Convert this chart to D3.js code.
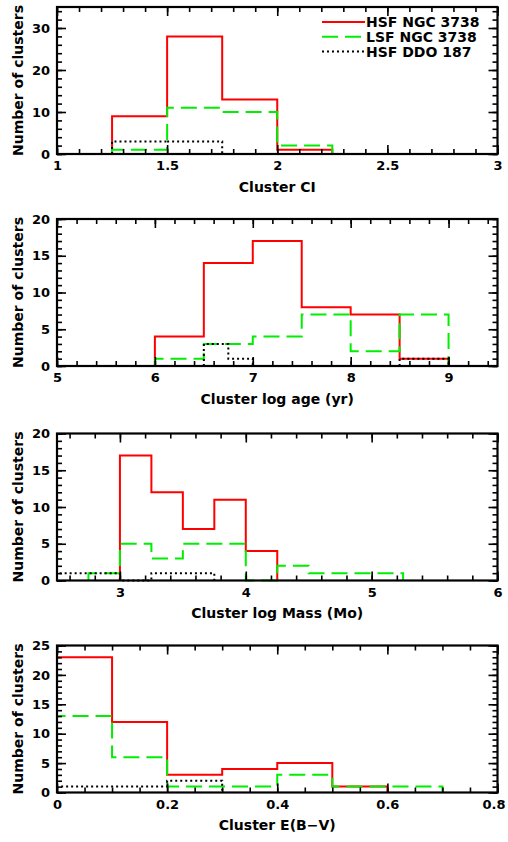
<!DOCTYPE html>
<html>
<head>
<meta charset="utf-8">
<script src="https://cdn.jsdelivr.net/npm/d3@7/dist/d3.min.js"></script>
<style>
  body { margin: 0; background: #fff; }
  svg { display: block; }
</style>
</head>
<body>
<script>

// DATA: bin edges + counts per series

var ciEdges = [1.25, 1.5, 1.75, 2.0, 2.25];
var ciHsf = [9, 28, 13, 1];
var ciLsf = [1, 11, 10, 2];
var ciDdoEdges = [1.25, 1.5, 1.75];
var ciDdo = [3, 3];

var ageEdges = [6, 6.5, 7, 7.5, 8, 8.5, 9];
var ageHsf = [4, 14, 17, 8, 7, 1];
var ageLsf = [1, 3, 4, 7, 2, 7];
var ageDdoEdges = [6.5, 6.75, 7.0, 8.5, 9.0];
var ageDdo = [3, 1, 0, 1];

var massHsfEdges = [3, 3.25, 3.5, 3.75, 4, 4.25];
var massHsf = [17, 12, 7, 11, 4];
var massLsfEdges = [2.75, 3, 3.25, 3.5, 3.75, 4, 4.25, 4.5, 4.75, 5, 5.25];
var massLsf = [1, 5, 3, 5, 5, 0, 2, 1, 1, 1];
var massDdoEdges = [2.5, 2.75, 3, 3.25, 3.5, 3.75];
var massDdo = [1, 1, 0, 1, 1];

var ebvHsfEdges = [0, 0.1, 0.2, 0.3, 0.4, 0.5, 0.6];
var ebvHsf = [23, 12, 3, 4, 5, 1];
var ebvLsfEdges = [0, 0.1, 0.2, 0.3, 0.4, 0.5, 0.6, 0.7];
var ebvLsf = [13, 6, 1, 1, 3, 1, 1];
var ebvDdoEdges = [0, 0.1, 0.2, 0.3];
var ebvDdo = [1, 1, 2];

var seriesNames = ["HSF NGC 3738", "LSF NGC 3738", "HSF DDO 187"];

var ciTicks = [1, 1.5, 2, 2.5, 3];
var ageTicks = [5, 6, 7, 8, 9];
var massTicks = [3, 4, 5, 6];
var ebvTicks = [0, 0.2, 0.4, 0.6, 0.8];

// STILI DELLE SERIE

var styles = [
  { color: "#ff0000", dash: null, width: 2 },
  { color: "#00ee00", dash: "16,7", width: 2 },
  { color: "#000000", dash: "2,3", width: 2 }
];

var W = 508, H = 842;
var left = 57, right = 497.5, ph = 147;
var font = "DejaVu Sans, Verdana, sans-serif";

var svg = d3.select("body")
    .append("svg")
    .attr("width", W)
    .attr("height", H);

// tacche minori: multipli di step dentro il dominio
function steps(lo, hi, step) {
  var a = Math.ceil(lo / step - 1e-6), b = Math.floor(hi / step + 1e-6);
  return d3.range(a, b + 1).map(function(i) { return +(i * step).toFixed(6); });
}

function drawPanel(p) {

  var g = svg.append("g")
      .attr("transform", "translate(" + left + "," + p.top + ")");

  var x = d3.scaleLinear().domain(p.xDomain).range([0, right - left]);
  var y = d3.scaleLinear().domain(p.yDomain).range([ph, 0]);

  var xMinor = steps(p.xDomain[0], p.xDomain[1], p.xMinorStep);
  var yMinor = steps(p.yDomain[0], p.yDomain[1], p.yMinorStep);
  var yMajor = steps(p.yDomain[0], p.yDomain[1], p.yMajorStep);

  // ISTOGRAMMI

  var line = d3.line()
      .x(function(d) { return x(d[0]); })
      .y(function(d) { return y(d[1]); });

  p.series.forEach(function(s, i) {
    var pts = [[s.edges[0], 0]];
    s.values.forEach(function(v, k) {
      pts.push([s.edges[k], v]);
      pts.push([s.edges[k + 1], v]);
    });
    pts.push([s.edges[s.edges.length - 1], 0]);

    g.append("path")
        .attr("d", line(pts))
        .attr("fill", "none")
        .attr("stroke", styles[i].color)
        .attr("stroke-width", styles[i].width)
        .attr("stroke-dasharray", styles[i].dash);
  });

  // ASSI E TACCHE (dentro il riquadro, su tutti i lati)

  function axisG(axis, tx, ty) {
    var a = g.append("g")
        .attr("transform", "translate(" + tx + "," + ty + ")")
        .call(axis);
    a.select(".domain").remove();
    a.selectAll(".tick line").attr("stroke", "#000").attr("stroke-width", 1.6);
    a.selectAll("text")
        .attr("font-family", font)
        .attr("font-weight", "bold")
        .attr("font-size", "13px")
        .attr("fill", "#000");
    return a;
  }

  axisG(d3.axisBottom(x).tickValues(xMinor).tickSize(-5).tickFormat(""), 0, ph);
  var xa = axisG(d3.axisBottom(x).tickValues(p.xTicks).tickSize(-9).tickPadding(7).tickFormat(function(d) { return String(d); }), 0, ph);
  axisG(d3.axisTop(x).tickValues(xMinor).tickSize(-5).tickFormat(""), 0, 0);
  axisG(d3.axisTop(x).tickValues(p.xTicks).tickSize(-9).tickFormat(""), 0, 0);

  axisG(d3.axisLeft(y).tickValues(yMinor).tickSize(-5).tickFormat(""), 0, 0);
  axisG(d3.axisLeft(y).tickValues(yMajor).tickSize(-9).tickPadding(7).tickFormat(function(d) { return String(d); }), 0, 0);
  axisG(d3.axisRight(y).tickValues(yMinor).tickSize(-5).tickFormat(""), right - left, 0);
  axisG(d3.axisRight(y).tickValues(yMajor).tickSize(-9).tickFormat(""), right - left, 0);

  // l'ultima etichetta non deve uscire dalla pagina
  xa.selectAll("text").each(function(d) {
    var over = left + x(d) + this.getBBox().width / 2 - (W - 3);
    if (over > 0) d3.select(this).attr("x", -over);
  });

  // RIQUADRO

  g.append("rect")
      .attr("x", 0)
      .attr("y", 0)
      .attr("width", right - left)
      .attr("height", ph)
      .attr("fill", "none")
      .attr("stroke", "#000")
      .attr("stroke-width", 2.2);

  // ETICHETTE

  g.append("text")
      .attr("x", (right - left) / 2)
      .attr("y", ph + 33)
      .attr("dy", "0.35em")
      .attr("text-anchor", "middle")
      .attr("font-family", font)
      .attr("font-weight", "bold")
      .attr("font-size", "14px")
      .text(p.xLabel);

  g.append("text")
      .attr("transform", "translate(" + (18 - left) + "," + (ph / 2) + ") rotate(-90)")
      .attr("dy", "0.35em")
      .attr("text-anchor", "middle")
      .attr("font-family", font)
      .attr("font-weight", "bold")
      .attr("font-size", "14px")
      .text("Number of clusters");

  // LEGENDA

  if (p.legend) {
    seriesNames.forEach(function(name, i) {
      var ly = 15 + i * 14.8;
      g.append("line")
          .attr("x1", 322 - left)
          .attr("x2", 365 - left)
          .attr("y1", ly)
          .attr("y2", ly)
          .attr("stroke", styles[i].color)
          .attr("stroke-width", styles[i].width)
          .attr("stroke-dasharray", styles[i].dash);
      g.append("text")
          .attr("x", 366 - left)
          .attr("y", ly)
          .attr("dy", "0.35em")
          .attr("font-family", font)
          .attr("font-weight", "bold")
          .attr("font-size", "14px")
          .text(name);
    });
  }
}

drawPanel({
  top: 7, xDomain: [1, 3], yDomain: [0, 35], xTicks: ciTicks,
  xMinorStep: 0.1, yMajorStep: 10, yMinorStep: 2,
  xLabel: "Cluster CI", legend: true,
  series: [
    { edges: ciEdges, values: ciHsf },
    { edges: ciEdges, values: ciLsf },
    { edges: ciDdoEdges, values: ciDdo }
  ]
});

drawPanel({
  top: 219, xDomain: [5, 9.5], yDomain: [0, 20], xTicks: ageTicks,
  xMinorStep: 0.2, yMajorStep: 5, yMinorStep: 1,
  xLabel: "Cluster log age (yr)",
  series: [
    { edges: ageEdges, values: ageHsf },
    { edges: ageEdges, values: ageLsf },
    { edges: ageDdoEdges, values: ageDdo }
  ]
});

drawPanel({
  top: 433.5, xDomain: [2.5, 6], yDomain: [0, 20], xTicks: massTicks,
  xMinorStep: 0.2, yMajorStep: 5, yMinorStep: 1,
  xLabel: "Cluster log Mass (Mo)",
  series: [
    { edges: massHsfEdges, values: massHsf },
    { edges: massLsfEdges, values: massLsf },
    { edges: massDdoEdges, values: massDdo }
  ]
});

drawPanel({
  top: 645.5, xDomain: [0, 0.8], yDomain: [0, 25], xTicks: ebvTicks,
  xMinorStep: 0.05, yMajorStep: 5, yMinorStep: 1,
  xLabel: "Cluster E(B\u2212V)",
  series: [
    { edges: ebvHsfEdges, values: ebvHsf },
    { edges: ebvLsfEdges, values: ebvLsf },
    { edges: ebvDdoEdges, values: ebvDdo }
  ]
});

</script>
</body>
</html>
